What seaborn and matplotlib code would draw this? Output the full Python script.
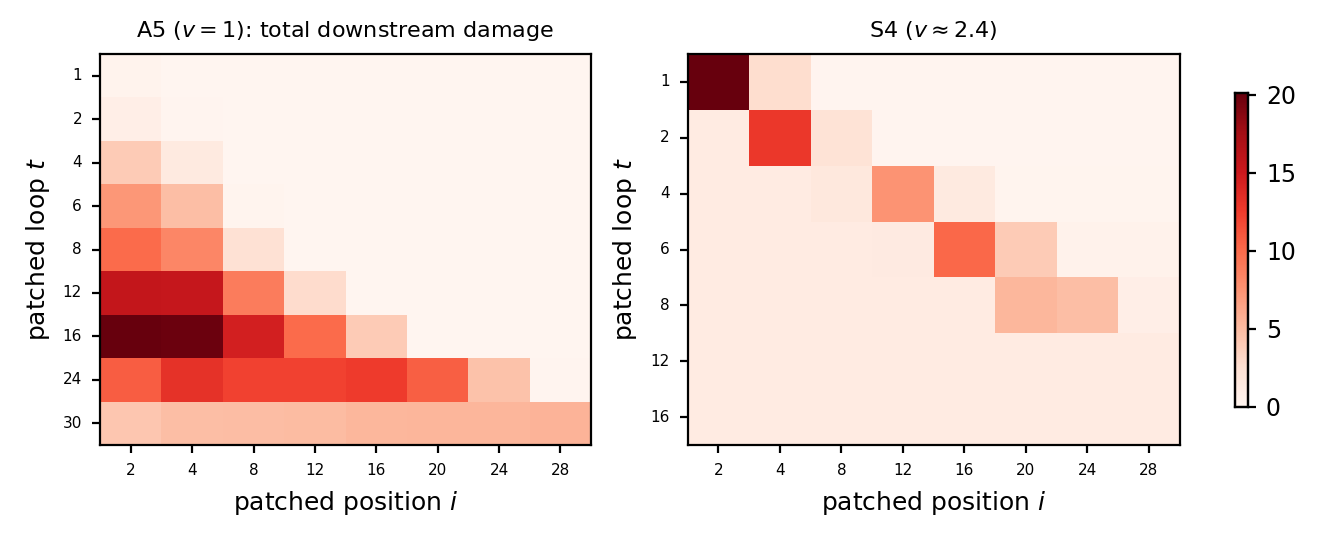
import numpy as np
import pandas as pd
import matplotlib
matplotlib.use('Agg')
import matplotlib.pyplot as plt
import seaborn as sns

positions = [2, 4, 8, 12, 16, 20, 24, 28]
loops_a5 = [1, 2, 4, 6, 8, 12, 16, 24, 30]
loops_s4 = [1, 2, 4, 6, 8, 12, 16]

# A5 total downstream damage (rows = loop t, cols = position i)
a5_vals = [
    [0.3, 0.05, 0.0, 0.0, 0.0, 0.0, 0.0, 0.0],
    [0.8, 0.1, 0.05, 0.0, 0.0, 0.0, 0.0, 0.0],
    [4.0, 1.4, 0.05, 0.0, 0.0, 0.0, 0.0, 0.0],
    [7.3, 4.8, 0.2, 0.05, 0.0, 0.0, 0.0, 0.0],
    [10.0, 8.3, 2.4, 0.05, 0.0, 0.0, 0.0, 0.0],
    [15.6, 15.4, 8.9, 2.8, 0.05, 0.0, 0.0, 0.0],
    [20.1, 19.9, 14.6, 10.0, 4.0, 0.05, 0.0, 0.0],
    [10.7, 13.2, 12.2, 12.2, 12.6, 10.6, 4.6, 0.1],
    [4.3, 4.8, 4.9, 5.0, 5.3, 5.4, 5.4, 5.5],
]

# S4 (v ~ 2.4)
s4_vals = [
    [20.1, 2.7, 0.1, 0.1, 0.1, 0.1, 0.1, 0.1],
    [1.2, 12.8, 2.2, 0.1, 0.1, 0.1, 0.1, 0.1],
    [1.2, 1.2, 1.6, 7.5, 1.4, 0.2, 0.2, 0.2],
    [1.2, 1.2, 1.2, 1.3, 10.2, 4.0, 0.4, 0.4],
    [1.2, 1.2, 1.2, 1.2, 1.2, 5.3, 4.8, 0.8],
    [1.2, 1.2, 1.2, 1.2, 1.2, 1.2, 1.2, 1.2],
    [1.2, 1.2, 1.2, 1.2, 1.2, 1.2, 1.2, 1.2],
]

df_a5 = pd.DataFrame(a5_vals, index=loops_a5, columns=positions)
df_s4 = pd.DataFrame(s4_vals, index=loops_s4, columns=positions)

vmax = 20.1

fig = plt.figure(figsize=(6.6, 2.715), dpi=200)
ax1 = fig.add_axes([0.0758, 0.1805, 0.372, 0.72])
ax2 = fig.add_axes([0.521, 0.1805, 0.3727, 0.72])
cax = fig.add_axes([0.9356, 0.2505, 0.0098, 0.578])

sns.heatmap(df_a5, ax=ax1, cmap='Reds', vmin=0, vmax=vmax, cbar=False)
sns.heatmap(df_s4, ax=ax2, cmap='Reds', vmin=0, vmax=vmax, cbar_ax=cax)

ax1.set_title('A5 ($v=1$): total downstream damage', fontsize=8)
ax2.set_title(r'S4 ($v\approx2.4$)', fontsize=8)

for ax in (ax1, ax2):
    ax.set_xlabel('patched position $i$', fontsize=9)
    ax.set_ylabel('patched loop $t$', fontsize=9)
    ax.tick_params(axis='both', labelsize=5.5, length=3, width=0.8)
    ax.set_yticklabels(ax.get_yticklabels(), rotation=0)
    ax.set_xticklabels(ax.get_xticklabels(), rotation=0)
    for s in ax.spines.values():
        s.set_visible(True)
        s.set_linewidth(0.8)

cax.tick_params(labelsize=8.5, length=3, width=0.8)
cax.set_yticks([0, 5, 10, 15, 20])
for s in cax.spines.values():
    s.set_visible(True)
    s.set_linewidth(0.8)

fig.savefig('out.png', dpi=200)
